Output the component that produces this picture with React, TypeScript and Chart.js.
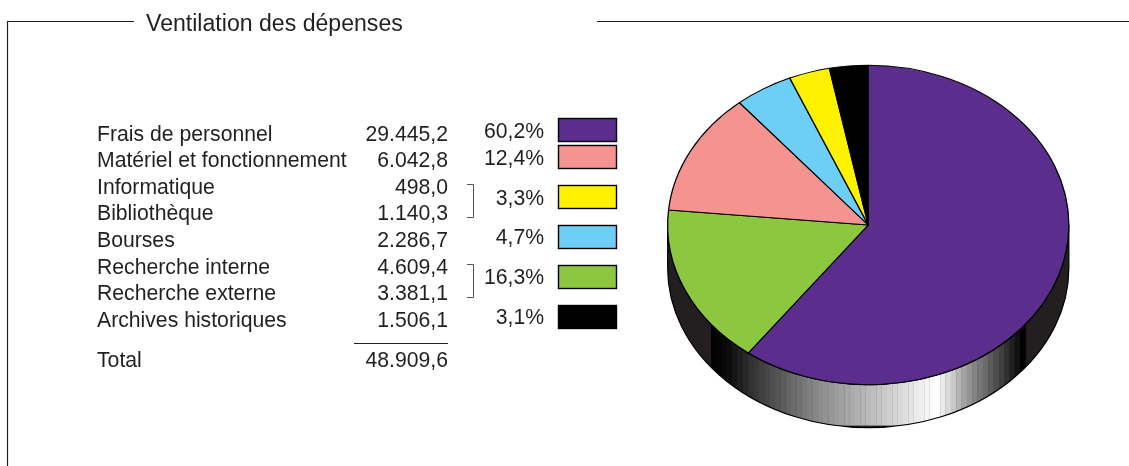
import React, { useEffect, useRef } from "react";
import { Chart, registerables } from "chart.js";

Chart.register(...registerables);

const titleText = "Ventilation des dépenses";
const rowLabels = [
  "Frais de personnel",
  "Matériel et fonctionnement",
  "Informatique",
  "Bibliothèque",
  "Bourses",
  "Recherche interne",
  "Recherche externe",
  "Archives historiques",
];
const rowAmounts = ["29.445,2", "6.042,8", "498,0", "1.140,3", "2.286,7", "4.609,4", "3.381,1", "1.506,1"];
const totalLabel = "Total";
const totalAmount = "48.909,6";

const legendPercents = ["60,2%", "12,4%", "3,3%", "4,7%", "16,3%", "3,1%"];
const legendColors = ["#5b2e8e", "#f59390", "#fff200", "#6dcff6", "#8dc63f", "#000000"];

const sliceNames = ["Personnel", "Recherche", "Matériel", "Bourses", "Informatique et bibliothèque", "Archives"];
const sliceShares = [60.2, 16.3, 12.4, 4.7, 3.3, 3.1];
const sliceColors = ["#5b2e8e", "#8dc63f", "#f59390", "#6dcff6", "#fff200", "#000000"];

const INK = "#231f20";
const FONT = '21.2px "Liberation Sans", Arial, sans-serif';
const TITLE_FONT = '23.1px "Liberation Sans", Arial, sans-serif';
const SQUASH = 160 / 201;
const DEPTH = 43;
const SHADE_STOPS: [number, number][] = [
  [711, 0],
  [728, 10],
  [750, 48],
  [817, 138],
  [883, 200],
  [937, 255],
  [967, 153],
  [1000, 68],
  [1023, 0],
];

function shadeAt(x: number) {
  for (let i = 1; i < SHADE_STOPS.length; i++) {
    const [x0, g0] = SHADE_STOPS[i - 1];
    const [x1, g1] = SHADE_STOPS[i];
    if (x <= x1) return Math.round(g0 + ((x - x0) / (x1 - x0)) * (g1 - g0));
  }
  return 0;
}

const sidePlugin = {
  id: "pieSide",
  beforeDatasetsDraw(chart: any) {
    const arc = chart.getDatasetMeta(0).data[0];
    const { x, y, outerRadius: r } = arc;
    const ry = r * SQUASH;
    const ctx: CanvasRenderingContext2D = chart.ctx;
    const sidePath = () => {
      ctx.beginPath();
      ctx.moveTo(x - r, y);
      ctx.lineTo(x - r, y + DEPTH);
      ctx.ellipse(x, y + DEPTH, r, ry, 0, Math.PI, 0, true);
      ctx.lineTo(x + r, y);
      ctx.ellipse(x, y, r, ry, 0, 0, Math.PI, false);
      ctx.closePath();
    };
    ctx.save();
    sidePath();
    ctx.fillStyle = INK;
    ctx.fill();
    ctx.save();
    sidePath();
    ctx.clip();
    for (let bx = 711; bx < 1023; bx += 5.33) {
      const g = shadeAt(bx + 2.6);
      ctx.fillStyle = `rgb(${g},${g},${g})`;
      ctx.fillRect(bx, y, 5.6, r);
    }
    ctx.restore();
    sidePath();
    ctx.strokeStyle = "#000";
    ctx.lineWidth = 1.2;
    ctx.stroke();
    ctx.restore();

    ctx.save();
    ctx.translate(x, y);
    ctx.scale(1, SQUASH);
    ctx.translate(-x, -y);
  },
  afterDatasetsDraw(chart: any) {
    chart.ctx.restore();
  },
};

const tablePlugin = {
  id: "table",
  afterDraw(chart: any) {
    const ctx: CanvasRenderingContext2D = chart.ctx;
    ctx.save();
    ctx.fillStyle = INK;
    ctx.textBaseline = "alphabetic";

    // frame and title
    ctx.strokeStyle = INK;
    ctx.lineWidth = 1.2;
    ctx.beginPath();
    ctx.moveTo(134, 21.5);
    ctx.lineTo(7.5, 21.5);
    ctx.lineTo(7.5, 466);
    ctx.moveTo(597, 21.5);
    ctx.lineTo(1129, 21.5);
    ctx.stroke();
    ctx.font = TITLE_FONT;
    ctx.textAlign = "left";
    ctx.fillText(titleText, 146, 31);
    ctx.font = FONT;

    // rows
    const rowBase = [141, 167, 194, 220, 247, 274, 300, 327];
    rowLabels.forEach((label, i) => {
      ctx.textAlign = "left";
      ctx.fillText(label, 97, rowBase[i]);
      ctx.textAlign = "right";
      ctx.fillText(rowAmounts[i], 448, rowBase[i]);
    });
    ctx.textAlign = "left";
    ctx.fillText(totalLabel, 97, 367);
    ctx.textAlign = "right";
    ctx.fillText(totalAmount, 448, 367);
    ctx.beginPath();
    ctx.moveTo(354, 343.5);
    ctx.lineTo(448, 343.5);
    ctx.stroke();

    // brackets
    ctx.strokeStyle = "#555";
    ctx.lineWidth = 1;
    ctx.beginPath();
    ctx.moveTo(467, 184.5);
    ctx.lineTo(473.5, 184.5);
    ctx.lineTo(473.5, 217.5);
    ctx.lineTo(467, 217.5);
    ctx.moveTo(467, 264.5);
    ctx.lineTo(473.5, 264.5);
    ctx.lineTo(473.5, 297.5);
    ctx.lineTo(467, 297.5);
    ctx.stroke();

    // legend
    const swatchTop = [118.5, 145.5, 185.5, 225.5, 265.5, 305.5];
    const pctBase = [138, 165, 205, 244, 284, 324];
    ctx.lineWidth = 1.4;
    legendPercents.forEach((pct, i) => {
      ctx.textAlign = "right";
      ctx.fillStyle = INK;
      ctx.fillText(pct, 544, pctBase[i]);
      ctx.fillStyle = legendColors[i];
      ctx.fillRect(558.5, swatchTop[i], 58, 23);
      ctx.strokeStyle = "#000";
      ctx.strokeRect(558.5, swatchTop[i], 58, 23);
    });
    ctx.restore();
  },
};

export default function App() {
  const ref = useRef<HTMLCanvasElement>(null);
  useEffect(() => {
    const chart = new Chart(ref.current as HTMLCanvasElement, {
      type: "pie",
      data: {
        labels: sliceNames,
        datasets: [
          {
            data: sliceShares,
            backgroundColor: sliceColors,
            borderColor: "#000000",
            borderWidth: 1.3,
            clip: false,
          } as any,
        ],
      },
      options: {
        responsive: false,
        animation: false,
        devicePixelRatio: 1,
        layout: { padding: { left: 667, right: 59.5, top: 23.75, bottom: 39.75 } },
        plugins: { legend: { display: false }, tooltip: { enabled: false }, title: { display: false } },
      },
      plugins: [sidePlugin, tablePlugin],
    } as any);
    return () => chart.destroy();
  }, []);
  return (
    <div style={{ position: "fixed", left: 0, top: 0, width: 1129, height: 466, background: "#fff" }}>
      <canvas ref={ref} width={1129} height={466} style={{ display: "block" }} />
    </div>
  );
}
